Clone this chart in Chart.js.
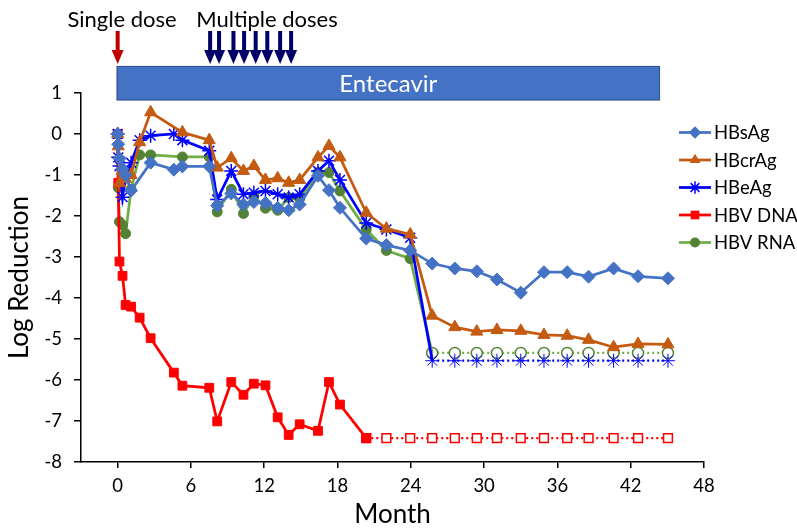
<!DOCTYPE html>
<html>
<head>
<meta charset="utf-8">
<script src="https://cdn.jsdelivr.net/npm/chart.js@4.4.0/dist/chart.umd.min.js"></script>
<style>
  body { margin: 0; background: #fff; }
  #wrap { width: 797px; height: 530px; }
</style>
</head>
<body>
<div id="wrap"><canvas id="chart" width="797" height="530"></canvas></div>
<script>
// sampling times (months)
const months = [0, 0.05, 0.15, 0.4, 0.65, 1.1, 1.8, 2.7, 4.6, 5.3, 7.5, 8.15, 9.3, 10.3, 11.15, 12.1,
    13.1, 14.0, 14.9, 16.4, 17.3, 18.2, 20.35, 22.0, 23.95, 25.75, 27.6, 29.4, 31.05, 33.0, 34.9,
    36.8, 38.55, 40.6, 42.6, 45.05];

// log reduction from baseline
const hbsAg = [0, -0.25, -0.6, -0.85, -1.0, -1.38, null, -0.7, -0.87, -0.79, -0.79, -1.75, -1.45, -1.72,
    -1.66, -1.68, -1.8, -1.86, -1.72, -1.02, -1.37, -1.8, -2.55, -2.71, -2.84, -3.16, -3.28, -3.35,
    -3.55, -3.87, -3.37, -3.37, -3.48, -3.28, -3.47, -3.52];
const hbcrAg = [0, -0.3, -1.2, -0.9, -1.1, -1.0, -0.2, 0.53, null, 0.04, -0.15, -0.82, -0.59, -0.9,
    -0.78, -1.12, -1.08, -1.19, -1.12, -0.57, -0.29, -0.57, -1.92, -2.31, -2.45, -4.43, -4.71, -4.82,
    -4.78, -4.8, -4.9, -4.92, -5.02, -5.2, -5.12, -5.13];
const hbeAg = [0, -0.57, -0.78, -1.54, -1.06, -0.7, -0.15, -0.04, 0.0, -0.15, -0.41, -1.6, -0.9, -1.47,
    -1.43, -1.39, -1.47, -1.55, -1.47, -0.9, -0.65, -1.12, -2.17, -2.33, -2.53, -5.53];
const hbvDna = [0, -1.19, -3.11, -3.46, -4.17, -4.21, -4.48, -4.98, -5.82, -6.14, -6.19, -7.01, -6.05,
    -6.36, -6.09, -6.13, -6.91, -7.34, -7.08, -7.24, -6.05, -6.6, -7.42];
const hbvRna = [0, -1.31, -2.14, -2.22, -2.43, -1.35, -0.51, -0.51, null, -0.56, -0.56, -1.9, -1.35, -1.94,
    -1.51, -1.81, -1.86, -1.55, -1.58, -0.94, -0.94, -1.39, -2.33, -2.84, -3.04, -5.34];

// below limit of quantification (open markers, dotted)
const hbeAgBelow = [-5.53, -5.53, -5.53, -5.53, -5.53, -5.53, -5.53, -5.53, -5.53, -5.53, -5.53];
const hbvRnaBelow = [-5.34, -5.34, -5.34, -5.34, -5.34, -5.34, -5.34, -5.34, -5.34, -5.34, -5.34];
const hbvDnaBelow = [-7.42, -7.42, -7.42, -7.42, -7.42, -7.42, -7.42, -7.42, -7.42, -7.42, -7.42,
    -7.42, -7.42, -7.42];

const xTicks = [0, 6, 12, 18, 24, 30, 36, 42, 48];
const doseMonths = [7.57, 8.3, 9.48, 10.35, 11.3, 12.25, 13.3, 14.2];
const singleDoseMonth = 0;
const treatmentEnd = 44.4;

const FONT = 'Lato, "Open Sans", sans-serif';

// ghép tháng với giá trị
const pts = (vals, start = 0) => vals.map((v, i) => ({ x: months[start + i], y: v }));

const lastHidden = (n, r) => ctx => ctx.dataIndex === n - 1 ? 0 : r;

function solid(label, data, color, pointStyle, radius, fill) {
    return {
        label: label, data: data, borderColor: color, backgroundColor: fill || color,
        pointBorderColor: fill || color, pointBackgroundColor: fill || color,
        borderWidth: 2.75, pointStyle: pointStyle, pointRadius: radius, pointBorderWidth: 1,
        spanGaps: true, tension: 0
    };
}

function dotted(data, color, pointStyle, radius) {
    return {
        label: '_below', data: data, borderColor: color, backgroundColor: '#fff',
        pointBorderColor: color, pointBackgroundColor: '#fff',
        borderWidth: 2.25, borderDash: [2, 3], pointStyle: pointStyle, pointRadius: radius,
        pointBorderWidth: 1.5, tension: 0
    };
}

const datasets = [
    solid('HBsAg', pts(hbsAg), '#4472C4', 'rectRot', 6.5),
    solid('HBcrAg', pts(hbcrAg), '#C55A11', 'triangle', 7),
    solid('HBeAg', pts(hbeAg), '#0000FF', 'star', 7),
    solid('HBV DNA', pts(hbvDna), '#FF0000', 'rect', 6.2),
    solid('HBV RNA', pts(hbvRna), '#70AD47', 'circle', 5, '#548235'),
    dotted(pts(hbeAgBelow, 25), '#0000FF', 'star', 7),
    dotted(pts(hbvRnaBelow, 25), '#548235', 'circle', 5.5),
    dotted(pts(hbvDnaBelow, 22), '#FF0000', 'rect', 6.2)
];
datasets[2].pointRadius = lastHidden(hbeAg.length, 7);
datasets[2].pointBorderWidth = 1.5;
datasets[4].pointRadius = lastHidden(hbvRna.length, 5);
datasets[5].pointBorderWidth = 1;
datasets[6].borderColor = '#70AD47';

function drawMarker(ctx, style, x, y, r, fill, stroke) {
    ctx.save();
    ctx.fillStyle = fill;
    ctx.strokeStyle = stroke;
    ctx.lineWidth = 1.5;
    ctx.beginPath();
    if (style === 'rectRot') {
        ctx.moveTo(x, y - r); ctx.lineTo(x + r, y); ctx.lineTo(x, y + r); ctx.lineTo(x - r, y);
        ctx.closePath(); ctx.fill();
    } else if (style === 'triangle') {
        ctx.moveTo(x, y - r); ctx.lineTo(x + r * 0.87, y + r * 0.5); ctx.lineTo(x - r * 0.87, y + r * 0.5);
        ctx.closePath(); ctx.fill();
    } else if (style === 'rect') {
        ctx.rect(x - r * 0.7, y - r * 0.7, r * 1.4, r * 1.4); ctx.fill();
    } else if (style === 'circle') {
        ctx.arc(x, y, r, 0, Math.PI * 2); ctx.fill();
    } else if (style === 'star') {
        for (let k = 0; k < 4; k++) {
            const a = k * Math.PI / 4;
            ctx.moveTo(x - Math.cos(a) * r, y - Math.sin(a) * r);
            ctx.lineTo(x + Math.cos(a) * r, y + Math.sin(a) * r);
        }
        ctx.stroke();
    }
    ctx.restore();
}

function downArrow(ctx, x, top, tip, color) {
    ctx.save();
    ctx.fillStyle = color;
    ctx.fillRect(x - 2, top, 4, tip - top - 12);
    ctx.beginPath();
    ctx.moveTo(x - 6, tip - 14);
    ctx.lineTo(x + 6, tip - 14);
    ctx.lineTo(x, tip);
    ctx.closePath();
    ctx.fill();
    ctx.restore();
}

const overlay = {
    id: 'overlay',
    afterDraw(chart) {
        const ctx = chart.ctx;
        const x = chart.scales.x;
        const y = chart.scales.y;

        // thanh điều trị Entecavir
        const bx0 = x.getPixelForValue(0) - 1;
        const bx1 = x.getPixelForValue(treatmentEnd);
        const by0 = y.getPixelForValue(1.66);
        const by1 = y.getPixelForValue(0.82);
        ctx.save();
        ctx.fillStyle = '#4472C4';
        ctx.strokeStyle = '#2F528F';
        ctx.lineWidth = 1;
        ctx.fillRect(bx0, by0, bx1 - bx0, by1 - by0);
        ctx.strokeRect(bx0 + 0.5, by0 + 0.5, bx1 - bx0 - 1, by1 - by0 - 1);
        ctx.fillStyle = '#fff';
        ctx.font = '24px ' + FONT;
        ctx.textAlign = 'center';
        ctx.textBaseline = 'middle';
        ctx.fillText('Entecavir', (bx0 + bx1) / 2, (by0 + by1) / 2 + 1);

        // mũi tên liều
        downArrow(ctx, x.getPixelForValue(singleDoseMonth), 31, by0 - 2, '#C00000');
        doseMonths.forEach(m => downArrow(ctx, x.getPixelForValue(m), 31, by0 - 2, '#000066'));

        ctx.fillStyle = '#000';
        ctx.font = '22px ' + FONT;
        ctx.fillText('Single dose', 122, 20);
        ctx.fillText('Multiple doses', 267, 20);
        ctx.restore();

        // chú thích
        const items = datasets.slice(0, 5);
        ctx.save();
        ctx.font = '18.5px ' + FONT;
        ctx.textBaseline = 'middle';
        ctx.textAlign = 'left';
        items.forEach((ds, i) => {
            const ly = 132.5 + i * 27.5;
            ctx.strokeStyle = ds.borderColor;
            ctx.lineWidth = 2.75;
            ctx.beginPath();
            ctx.moveTo(679, ly);
            ctx.lineTo(711, ly);
            ctx.stroke();
            drawMarker(ctx, ds.pointStyle, 695, ly, ds.pointStyle === 'circle' ? 5 : 6.2,
                ds.pointBackgroundColor, ds.pointBorderColor);
            ctx.fillStyle = '#000';
            ctx.fillText(ds.label, 714, ly + 1);
        });
        ctx.restore();
    }
};

new Chart(document.getElementById('chart'), {
    type: 'line',
    data: { datasets: datasets },
    plugins: [overlay],
    options: {
        responsive: false,
        animation: false,
        devicePixelRatio: 1,
        layout: { padding: { top: 93, right: 93, left: 0, bottom: 0 } },
        plugins: { legend: { display: false }, tooltip: { enabled: false } },
        scales: {
            x: {
                type: 'linear', min: -3, max: 48,
                afterBuildTicks: s => { s.ticks = xTicks.map(v => ({ value: v })); },
                afterFit: s => { s.height = 68; },
                grid: { drawOnChartArea: false, color: '#000', tickLength: 6, lineWidth: 1.5 },
                border: { color: '#000', width: 1.5 },
                ticks: { color: '#000', font: { family: FONT, size: 18.5 }, padding: 7, maxRotation: 0 },
                title: { display: true, text: 'Month', color: '#000', font: { family: FONT, size: 26 }, padding: { top: 0, bottom: 0 } }
            },
            y: {
                min: -8, max: 1,
                afterFit: s => { s.width = 81; },
                grid: { drawOnChartArea: false, color: '#000', tickLength: 7, lineWidth: 1.5 },
                border: { color: '#000', width: 1.5 },
                ticks: { stepSize: 1, color: '#000', font: { family: FONT, size: 18.5 }, padding: 12 },
                title: { display: true, text: 'Log Reduction', color: '#000', font: { family: FONT, size: 26 }, padding: { top: 4, bottom: 0 } }
            }
        }
    }
});
</script>
</body>
</html>
